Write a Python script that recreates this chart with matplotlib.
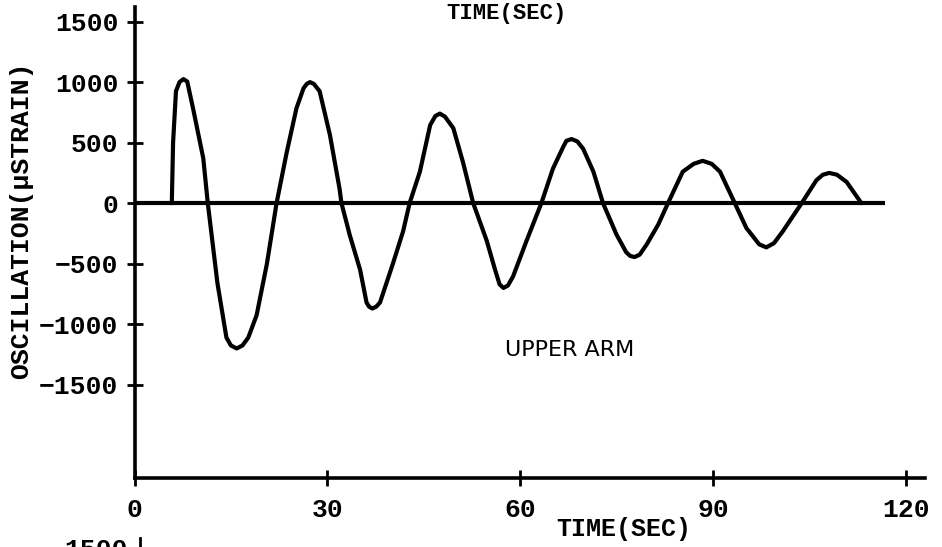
import matplotlib
matplotlib.use("Agg")
import matplotlib.pyplot as plt
from matplotlib.lines import Line2D

# Strain oscillation of the upper arm after release (microstrain vs seconds)
time_s = [5.8, 6.0, 6.45, 7.0, 7.6, 8.2, 9.1, 10.7, 11.4,
          12.9, 14.3, 15.0, 15.9, 16.8, 17.7, 19.0, 20.6, 22.1,
          23.7, 25.2, 26.3, 26.8, 27.3, 27.9, 28.8, 30.4, 31.9, 32.2,
          33.5, 35.1, 36.1, 36.5, 37.0, 37.6, 38.2, 40.2, 41.8, 42.8,
          44.4, 46.0, 46.8, 47.5, 48.3, 49.6, 51.1, 52.7,
          54.8, 56.1, 56.8, 57.4, 58.1, 58.9, 61.0, 63.3,
          65.1, 66.7, 67.2, 68.0, 68.9, 69.8, 71.4, 72.9,
          75.0, 76.5, 77.1, 77.8, 78.6, 79.7, 81.5, 83.0,
          85.3, 87.0, 88.4, 89.8, 91.1, 93.4,
          95.2, 97.2, 98.3, 99.5, 100.9, 103.8,
          106.1, 107.1, 108.1, 109.3, 110.8, 113.1]
strain = [0, 500, 925, 1000, 1025, 1005, 785, 370, 0,
          -660, -1110, -1175, -1200, -1175, -1110, -925, -500, 0,
          425, 785, 950, 985, 1000, 985, 925, 565, 120, 0,
          -265, -550, -820, -855, -870, -855, -820, -500, -230, 0,
          260, 645, 720, 740, 715, 620, 340, 0,
          -310, -550, -670, -700, -680, -605, -310, 0,
          285, 465, 515, 530, 510, 450, 260, 0,
          -260, -405, -435, -445, -425, -340, -175, 0,
          260, 325, 350, 325, 260, 0,
          -205, -340, -365, -330, -230, 0,
          190, 235, 250, 235, 175, 0]

baseline_end = 116.7
x_ticks = [0, 30, 60, 90, 120]
y_ticks = [-1500, -1000, -500, 0, 500, 1000, 1500]

mono = "Liberation Mono"

fig = plt.figure(figsize=(9.42, 5.47), dpi=100)
ax = fig.add_axes([0.1428, 0.1261, 0.8392, 0.861])

ax.plot([0, baseline_end], [0, 0], color="black", linewidth=3.0, solid_capstyle="butt")
ax.plot(time_s, strain, color="black", linewidth=3.0, solid_joinstyle="round",
        solid_capstyle="round")

ax.set_xlim(0, 123)
ax.set_ylim(-2270, 1620)

for side in ["top", "right"]:
    ax.spines[side].set_visible(False)
for side in ["left", "bottom"]:
    ax.spines[side].set_linewidth(2.6)

ax.set_xticks(x_ticks)
ax.set_yticks(y_ticks)
ax.tick_params(direction="inout", length=11, width=2, pad=6)
ax.tick_params(axis="x", pad=9)
for lab in ax.get_xticklabels() + ax.get_yticklabels():
    lab.set_fontfamily(mono)
    lab.set_fontweight("bold")
    lab.set_fontsize(19)

ax.set_ylabel("OSCILLATION(\u03bcSTRAIN)", fontfamily=mono, fontweight="bold",
              fontsize=19)
ax.yaxis.set_label_coords(-0.128, 0.548)
ax.set_xlabel("TIME(SEC)", fontfamily=mono, fontweight="bold", fontsize=18)
ax.xaxis.set_label_coords(0.619, -0.083)

ax.text(67.7, -1210, "UPPER ARM", fontsize=16, ha="center", va="center",
        fontfamily="DejaVu Sans")

# pieces of the neighbouring plots on the same page
fig.text(0.538, 0.995, "TIME(SEC)", fontfamily=mono, fontweight="bold",
         fontsize=16, ha="center", va="top")
fig.text(0.136, 0.017, "1500", fontfamily=mono, fontweight="bold",
         fontsize=19, ha="right", va="top")
fig.add_artist(Line2D([0.149, 0.149], [0.0, 0.017], color="black", linewidth=2))

fig.savefig("out.png", dpi=100)
